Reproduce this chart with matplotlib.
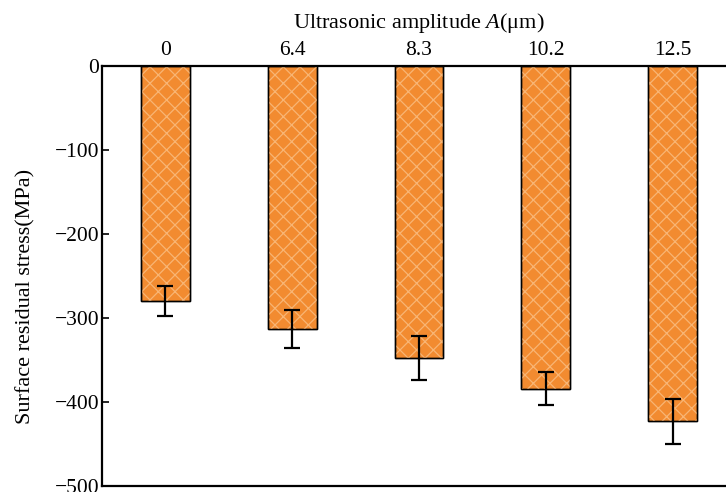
import matplotlib.pyplot as plt
import numpy as np

amplitudes = ["0", "6.4", "8.3", "10.2", "12.5"]
stress = [-280, -313, -348, -384, -423]
err = [18, 23, 26, 20, 27]

plt.rcParams['font.family'] = ['Liberation Serif', 'DejaVu Serif']
plt.rcParams['mathtext.fontset'] = 'custom'
plt.rcParams['mathtext.it'] = 'Liberation Serif:italic'
plt.rcParams['mathtext.rm'] = 'Liberation Serif'
plt.rcParams['hatch.linewidth'] = 0.9

fig = plt.figure(figsize=(7.26, 4.92), dpi=100)
ax = fig.add_axes([102/726, 1-486/492, (736-102)/726, (486-66)/492])

x = np.arange(len(amplitudes))
ax.bar(x, stress, width=0.385, color='#F28B30', edgecolor='black', linewidth=1.0, zorder=2)
ax.bar(x, stress, width=0.385, fill=False, hatch='xx', edgecolor='#F8B574', linewidth=0, zorder=3)
ax.bar(x, stress, width=0.385, fill=False, edgecolor='black', linewidth=1.0, zorder=4)
ax.errorbar(x, stress, yerr=err, fmt='none', ecolor='black', elinewidth=1.6,
            capsize=6, capthick=1.6, zorder=5)

ax.set_xlim(-0.5, 4.5)
ax.set_ylim(-500, 0)
ax.set_yticks([0, -100, -200, -300, -400, -500])
ax.xaxis.tick_top()
ax.xaxis.set_label_position('top')
ax.set_xticks(x)
ax.set_xticklabels(amplitudes, fontsize=15.5)
ax.tick_params(axis='x', length=0, pad=4)
ax.tick_params(axis='y', direction='in', length=5, width=1.2, labelsize=15.5, pad=2)
ax.set_xlabel('Ultrasonic amplitude $A$(μm)', fontsize=16, va='center')
ax.xaxis.set_label_coords(0.5, 1 + (66 - 23) / 420)
ax.set_ylabel('Surface residual stress(MPa)', fontsize=16, va='center')
ax.yaxis.set_label_coords((26 - 102) / 634, (486 - 296) / 420)
for s in ax.spines.values():
    s.set_linewidth(1.6)

fig.savefig('out.png', dpi=100)
